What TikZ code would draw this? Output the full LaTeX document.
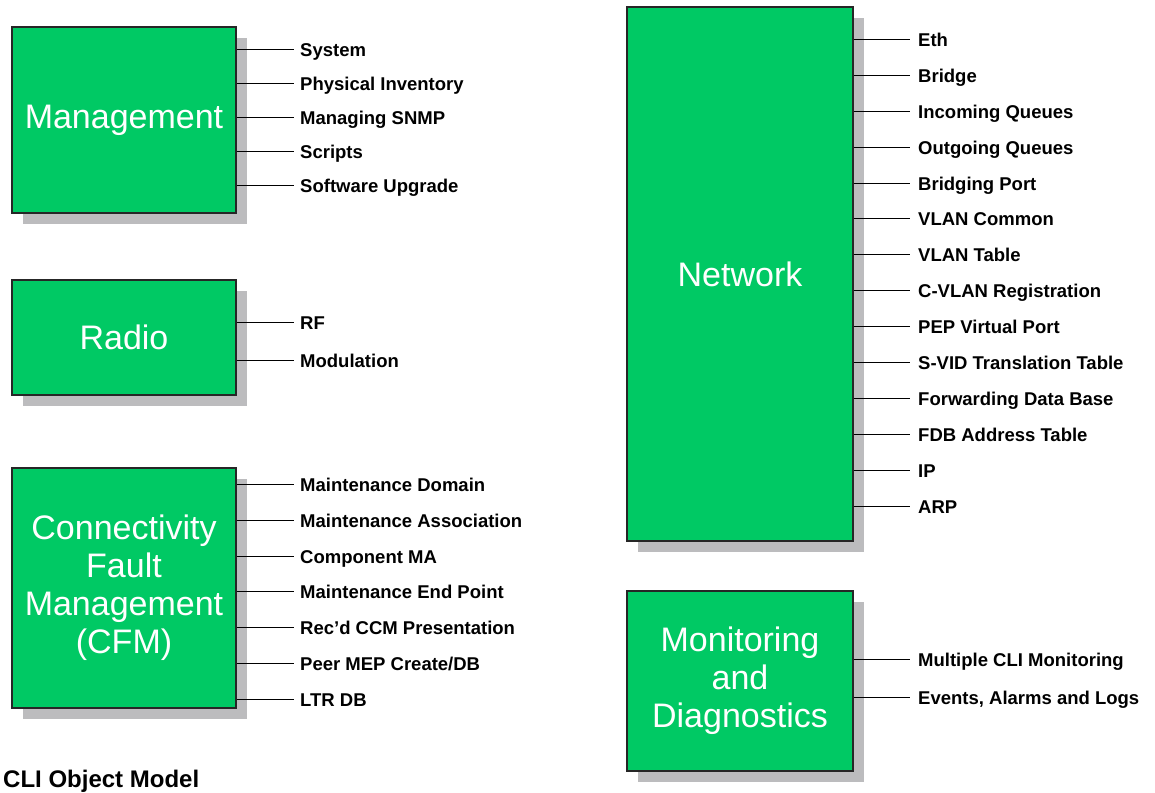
\documentclass[tikz,border=0pt]{standalone}
\usepackage{fontspec}
\setmainfont{Liberation Sans}
\usetikzlibrary{shadows}
\definecolor{boxgreen}{RGB}{0,201,100}
\definecolor{shadowgray}{RGB}{188,188,190}
\begin{document}
\begin{tikzpicture}[x=1pt,y=-1pt,
  box/.style={draw=black!85, line width=1.3pt, fill=boxgreen, text=white,
    font=\fontsize{34}{38}\selectfont, align=center, inner sep=0pt,
    drop shadow={shadow xshift=11pt, shadow yshift=-11pt, fill=shadowgray, opacity=1}},
  item/.style={anchor=base west, font=\bfseries\fontsize{18.5}{22}\selectfont, inner sep=0pt, yshift=-6.6pt},
  conn/.style={draw=black, line width=1.3pt}]
\useasboundingbox (0,0) rectangle (1155,792);

% boxes
\node[box, minimum width=224pt, minimum height=186pt] (mgmt) at (124,120) {Management};
\node[box, minimum width=224pt, minimum height=115pt] (radio) at (124,337.5) {Radio};
\node[box, minimum width=224pt, minimum height=240pt] (cfm) at (124,588) {Connectivity\\Fault\\Management\\(CFM)};
\node[box, minimum width=226pt, minimum height=534pt] (net) at (740,274) {Network};
\node[box, minimum width=226pt, minimum height=180pt] (mon) at (740,681) {Monitoring\\and\\Diagnostics};

% Management items
\foreach \t [count=\i] in {System, Physical Inventory, Managing SNMP, Scripts, Software Upgrade}{
  \coordinate (mg\i) at (294,{49.5+34*(\i-1)});
  \draw[conn] (mgmt.east |- mg\i) -- (mg\i);
  \node[item] (mgt\i) at ([xshift=6pt]mg\i) {\t};
}
% Radio items
\foreach \t [count=\i] in {RF, Modulation}{
  \coordinate (ra\i) at (294,{322.5+38*(\i-1)});
  \draw[conn] (radio.east |- ra\i) -- (ra\i);
  \node[item] (rat\i) at ([xshift=6pt]ra\i) {\t};
}
% CFM items
\foreach \t [count=\i] in {Maintenance Domain, Maintenance Association, Component MA, Maintenance End Point, Rec’d CCM Presentation, Peer MEP Create/DB, LTR DB}{
  \coordinate (cf\i) at (294,{round(484+35.8*(\i-1))+0.5});
  \draw[conn] (cfm.east |- cf\i) -- (cf\i);
  \node[item] (cft\i) at ([xshift=6pt]cf\i) {\t};
}
% Network items
\foreach \t [count=\i] in {Eth, Bridge, Incoming Queues, Outgoing Queues, Bridging Port, VLAN Common, VLAN Table, C-VLAN Registration, PEP Virtual Port, S-VID Translation Table, Forwarding Data Base, FDB Address Table, IP, ARP}{
  \coordinate (nt\i) at (910,{round(39+35.9*(\i-1))+0.5});
  \draw[conn] (net.east |- nt\i) -- (nt\i);
  \node[item] (ntt\i) at ([xshift=8pt]nt\i) {\t};
}
% Monitoring items
\foreach \t [count=\i] in {Multiple CLI Monitoring, {Events, Alarms and Logs}}{
  \coordinate (mo\i) at (910,{659.5+38*(\i-1)});
  \draw[conn] (mon.east |- mo\i) -- (mo\i);
  \node[item] (mot\i) at ([xshift=8pt]mo\i) {\t};
}

\node[anchor=base west, font=\bfseries\fontsize{24}{28}\selectfont, inner sep=0pt] (title) at (3,787) {CLI Object Model};
\end{tikzpicture}
\end{document}
